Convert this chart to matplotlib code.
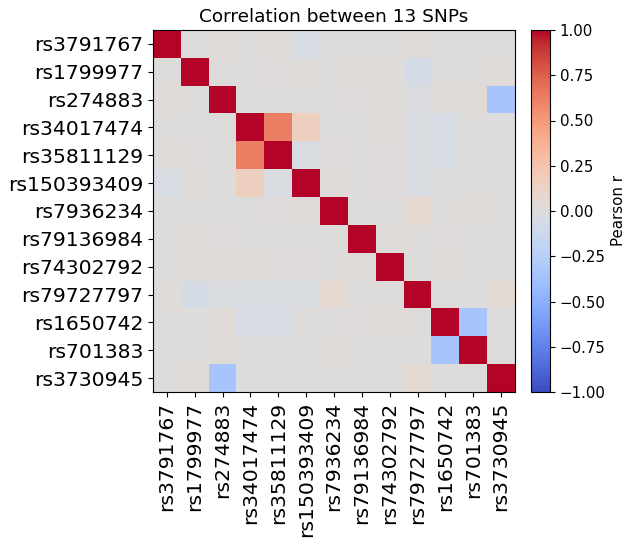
import matplotlib
matplotlib.use("Agg")
import matplotlib.pyplot as plt
import numpy as np

snps = ["rs3791767", "rs1799977", "rs274883", "rs34017474", "rs35811129",
        "rs150393409", "rs7936234", "rs79136984", "rs74302792", "rs79727797",
        "rs1650742", "rs701383", "rs3730945"]

# correlation matrix (rows in the order of snps)
r_rows = [
    [1.00, 0.00, 0.03, 0.00, 0.02, -0.04, 0.00, 0.00, 0.00, 0.02, 0.00, 0.00, 0.00],
    [0.00, 1.00, 0.00, 0.00, 0.01, 0.02, 0.00, 0.02, 0.02, -0.06, 0.00, 0.00, 0.03],
    [0.03, 0.00, 1.00, 0.00, 0.00, 0.00, 0.00, 0.01, 0.02, -0.02, 0.03, 0.03, -0.35],
    [0.00, 0.00, 0.00, 1.00, 0.62, 0.15, 0.00, 0.00, 0.02, -0.03, -0.05, 0.00, -0.01],
    [0.02, 0.01, 0.00, 0.62, 1.00, -0.03, 0.01, 0.00, 0.01, -0.03, -0.05, 0.00, 0.00],
    [-0.04, 0.02, 0.00, 0.15, -0.03, 1.00, 0.02, 0.00, 0.01, -0.03, 0.00, 0.00, 0.00],
    [0.00, 0.00, 0.00, 0.00, 0.01, 0.02, 1.00, 0.00, 0.00, 0.06, 0.00, 0.02, 0.00],
    [0.00, 0.02, 0.01, 0.00, 0.00, 0.00, 0.00, 1.00, 0.02, 0.00, 0.01, 0.00, 0.00],
    [0.00, 0.02, 0.02, 0.02, 0.01, 0.01, 0.00, 0.02, 1.00, 0.00, 0.02, 0.00, 0.00],
    [0.02, -0.06, -0.02, -0.03, -0.03, -0.03, 0.06, 0.00, 0.00, 1.00, 0.00, 0.00, 0.05],
    [0.00, 0.00, 0.03, -0.05, -0.05, 0.00, 0.00, 0.01, 0.02, 0.00, 1.00, -0.35, 0.00],
    [0.00, 0.00, 0.03, 0.00, 0.00, 0.00, 0.02, 0.00, 0.00, 0.00, -0.35, 1.00, 0.00],
    [0.00, 0.03, -0.35, -0.01, 0.00, 0.00, 0.00, 0.00, 0.00, 0.05, 0.00, 0.00, 1.00],
]

corr = np.array(r_rows)

fig = plt.figure(figsize=(6.33, 5.47), dpi=100)
ax = fig.add_axes([153 / 633, 1 - 392 / 547, 362 / 633, 362 / 547])
cax = fig.add_axes([531 / 633, 1 - 392 / 547, 19 / 633, 362 / 547])

im = ax.imshow(corr, cmap="coolwarm", vmin=-1, vmax=1, aspect="auto")
ax.set_xticks(range(len(snps)))
ax.set_yticks(range(len(snps)))
ax.set_xticklabels(snps, rotation=90, fontsize=14.7)
ax.set_yticklabels(snps, fontsize=14.7)
ax.set_title("Correlation between 13 SNPs", fontsize=13.3)

cb = fig.colorbar(im, cax=cax)
cb.ax.tick_params(labelsize=10.8)
cb.set_label("Pearson r", fontsize=10.8)

fig.savefig("out.png", dpi=100)
